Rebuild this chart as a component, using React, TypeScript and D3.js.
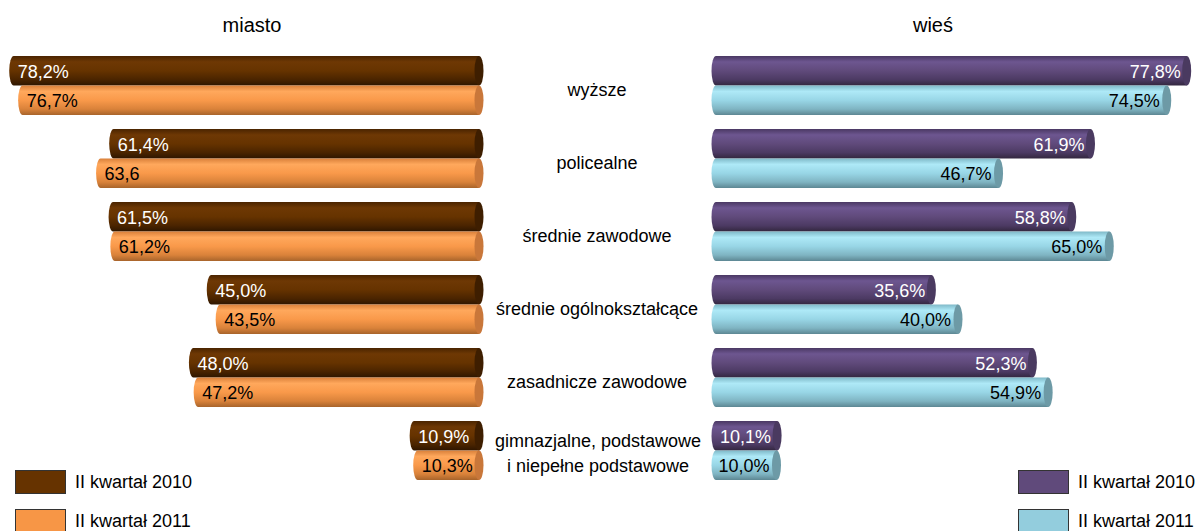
import React from "react";
import * as d3 from "d3";

const categories = [
  "wyższe",
  "policealne",
  "średnie zawodowe",
  "średnie ogólnokształcące",
  "zasadnicze zawodowe",
  "gimnazjalne, podstawowe|i niepełne podstawowe",
];
const series = ["II kwartał 2010", "II kwartał 2011"];
const miasto2010 = [78.2, 61.4, 61.5, 45.0, 48.0, 10.9];
const miasto2011 = [76.7, 63.6, 61.2, 43.5, 47.2, 10.3];
const miasto2011Labels = ["76,7%", "63,6", "61,2%", "43,5%", "47,2%", "10,3%"];
const wies2010 = [77.8, 61.9, 58.8, 35.6, 52.3, 10.1];
const wies2011 = [74.5, 46.7, 65.0, 40.0, 54.9, 10.0];

const fmt = (v: number) => v.toFixed(1).replace(".", ",") + "%";

const W = 1201;
const H = 531;
const FONT = "Arial, 'Liberation Sans', sans-serif";

const xL = d3.scaleLinear().domain([0, 100]).range([479, 479 - 595]);
const xR = d3.scaleLinear().domain([0, 100]).range([716, 716 + 605]);
const yRow = d3.scaleBand<string>().domain(categories).range([56, 56 + 73 * 6]).paddingInner(0).paddingOuter(0);
const ySub = d3.scaleBand<string>().domain(series).range([0, 59]).padding(0);

const RX = 4.5;

const grads = [
  { id: "gBrown", stops: ["#4a2400", "#6e3804", "#663300", "#4a2400", "#2e1600"], cap: "#3e1e00" },
  { id: "gOrange", stops: ["#d9803a", "#ffa85c", "#f9994a", "#d9823a", "#a8642b"], cap: "#c9773a" },
  { id: "gPurple", stops: ["#4a3863", "#6d5690", "#604a7b", "#4c3a63", "#33273f"], cap: "#4a3a60" },
  { id: "gBlue", stops: ["#7fb9c8", "#aee9f7", "#98d6e6", "#7fb4c2", "#5d8793"], cap: "#6d9aa6" },
];
const offs = [0, 0.2, 0.5, 0.8, 1];

function Cyl({ x0, x1, y, h, grad, cap }: { x0: number; x1: number; y: number; h: number; grad: string; cap: string }) {
  const ry = h / 2;
  const d = `M${x0},${y} L${x1},${y} L${x1},${y + h} L${x0},${y + h} A${RX},${ry} 0 0 1 ${x0},${y} Z`;
  return (
    <g>
      <path d={d} fill={`url(#${grad})`} />
      <ellipse cx={x1} cy={y + ry} rx={RX} ry={ry} fill={cap} />
    </g>
  );
}

export default function App() {
  const h = ySub.bandwidth();
  return (
    <svg width={W} height={H} style={{ position: "absolute", left: 0, top: 0 }} fontFamily={FONT}>
      <defs>
        {grads.map((g) => (
          <linearGradient key={g.id} id={g.id} x1="0" y1="0" x2="0" y2="1">
            {g.stops.map((c, i) => (
              <stop key={i} offset={offs[i]} stopColor={c} />
            ))}
          </linearGradient>
        ))}
      </defs>
      <rect width={W} height={H} fill="#fff" />
      <text x={252} y={32} textAnchor="middle" fontSize={20} fill="#000">miasto</text>
      <text x={933} y={32} textAnchor="middle" fontSize={20} fill="#000">wieś</text>

      {categories.map((c, i) => {
        const y0 = yRow(c)!;
        const y10 = y0 + ySub(series[0])!;
        const y11 = y0 + ySub(series[1])!;
        const mid = y0 + 29.5;
        const lines = c.split("|");
        return (
          <g key={c}>
            <Cyl x0={xL(miasto2010[i])} x1={xL(0)} y={y10} h={h} grad="gBrown" cap={grads[0].cap} />
            <Cyl x0={xL(miasto2011[i])} x1={xL(0)} y={y11} h={h} grad="gOrange" cap={grads[1].cap} />
            <Cyl x0={xR(0)} x1={xR(wies2010[i])} y={y10} h={h} grad="gPurple" cap={grads[2].cap} />
            <Cyl x0={xR(0)} x1={xR(wies2011[i])} y={y11} h={h} grad="gBlue" cap={grads[3].cap} />
            <text x={xL(miasto2010[i]) + 4} y={y10 + h / 2 + 7} fontSize={18} fill="#fff">{fmt(miasto2010[i])}</text>
            <text x={xL(miasto2011[i]) + 4} y={y11 + h / 2 + 7} fontSize={18} fill="#000">{miasto2011Labels[i]}</text>
            <text x={xR(wies2010[i]) - 6} y={y10 + h / 2 + 7} fontSize={18} fill="#fff" textAnchor="end">{fmt(wies2010[i])}</text>
            <text x={xR(wies2011[i]) - 7} y={y11 + h / 2 + 7} fontSize={18} fill="#000" textAnchor="end">{fmt(wies2011[i])}</text>
            {lines.length === 1 ? (
              <text x={597} y={mid + 10} textAnchor="middle" fontSize={18} fill="#000">{lines[0]}</text>
            ) : (
              <>
                <text x={598} y={mid - 4} textAnchor="middle" fontSize={18} fill="#000">{lines[0]}</text>
                <text x={598} y={mid + 21} textAnchor="middle" fontSize={18} fill="#000">{lines[1]}</text>
              </>
            )}
          </g>
        );
      })}

      {[0, 1].map((k) => (
        <g key={k}>
          <rect x={15.5} y={470.5 + k * 39} width={50} height={23} fill={k === 0 ? "#663300" : "#f79646"} stroke="#333" strokeWidth={1} />
          <text x={75} y={488 + k * 39} fontSize={18} fill="#000">{series[k]}</text>
          <rect x={1018.5} y={470.5 + k * 39} width={50} height={23} fill={k === 0 ? "#604a7b" : "#93cddd"} stroke="#333" strokeWidth={1} />
          <text x={1078} y={488 + k * 39} fontSize={18} fill="#000">{series[k]}</text>
        </g>
      ))}
    </svg>
  );
}
